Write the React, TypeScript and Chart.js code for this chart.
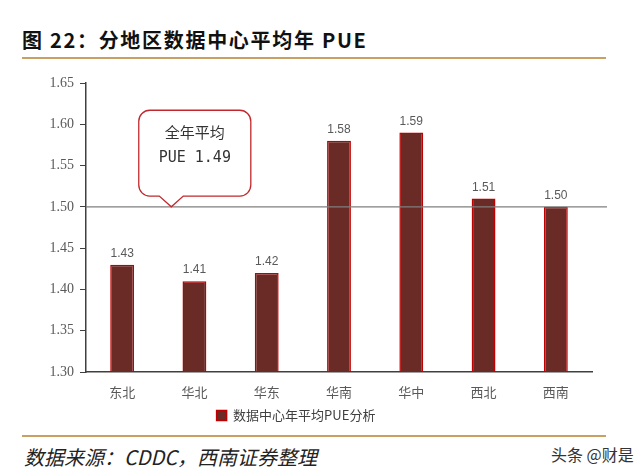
import React, { useEffect, useRef } from "react";
import { Chart, registerables } from "chart.js";

Chart.register(...registerables);

const categories = ["东北", "华北", "华东", "华南", "华中", "西北", "西南"];
const pueValues = [1.43, 1.41, 1.42, 1.58, 1.59, 1.51, 1.5];
const seriesName = "数据中心年平均PUE分析";
const avgLineValue = 1.5;
const calloutLines = ["全年平均", "PUE 1.49"];
const yMin = 1.3;
const yMax = 1.65;
const yStep = 0.05;

const overlayPlugin = {
  id: "overlay",
  afterDatasetsDraw(chart: any) {
    const { ctx, chartArea, scales } = chart;
    const xs = scales.x;
    const ys = scales.y;
    ctx.save();
    // average line
    const ly = ys.getPixelForValue(avgLineValue);
    ctx.strokeStyle = "#7f7f7f";
    ctx.lineWidth = 1.2;
    ctx.beginPath();
    ctx.moveTo(chartArea.left, ly);
    ctx.lineTo(chartArea.right + 15, ly);
    ctx.stroke();

    // data labels
    const meta = chart.getDatasetMeta(0);
    ctx.fillStyle = "#595959";
    ctx.font = "12px 'Liberation Sans', Arial, sans-serif";
    ctx.textAlign = "center";
    ctx.textBaseline = "bottom";
    meta.data.forEach((bar: any, i: number) => {
      ctx.fillText(pueValues[i].toFixed(2), bar.x, bar.y - 5);
    });

    // callout
    const x0 = xs.getPixelForValue(0);
    const x1 = xs.getPixelForValue(1);
    const cw = x1 - x0;
    const left = x0 + cw * 0.23;
    const right = x0 + cw * 1.78;
    const top = ys.getPixelForValue(1.617);
    const bottom = ys.getPixelForValue(1.513);
    const tipX = x0 + cw * 0.68;
    const tipY = ly;
    const r = 11;
    const pw = 12;
    ctx.beginPath();
    ctx.moveTo(left + r, top);
    ctx.lineTo(right - r, top);
    ctx.arcTo(right, top, right, top + r, r);
    ctx.lineTo(right, bottom - r);
    ctx.arcTo(right, bottom, right - r, bottom, r);
    ctx.lineTo(tipX + pw, bottom);
    ctx.lineTo(tipX, tipY);
    ctx.lineTo(tipX - pw, bottom);
    ctx.lineTo(left + r, bottom);
    ctx.arcTo(left, bottom, left, bottom - r, r);
    ctx.lineTo(left, top + r);
    ctx.arcTo(left, top, left + r, top, r);
    ctx.closePath();
    ctx.fillStyle = "#ffffff";
    ctx.fill();
    ctx.strokeStyle = "#c0282d";
    ctx.lineWidth = 1.3;
    ctx.stroke();

    ctx.fillStyle = "#333333";
    ctx.textAlign = "center";
    ctx.textBaseline = "middle";
    const cx = (left + right) / 2;
    ctx.font = "15px 'Noto Sans CJK SC', sans-serif";
    ctx.fillText(calloutLines[0], cx, top + 22);
    ctx.font = "15px 'DejaVu Sans Mono', 'Liberation Mono', monospace";
    ctx.fillText(calloutLines[1], cx, top + 48);
    ctx.restore();
  },
};

export default function App() {
  const ref = useRef<HTMLCanvasElement>(null);
  useEffect(() => {
    const chart = new Chart(ref.current!, {
      type: "bar",
      data: {
        labels: categories,
        datasets: [
          {
            label: seriesName,
            data: pueValues,
            backgroundColor: "#6a2a26",
            borderColor: "#c00000",
            borderWidth: 1.5,
            barPercentage: 0.33,
            categoryPercentage: 1,
          },
        ],
      },
      options: {
        animation: false,
        responsive: false,
        layout: { padding: { left: 0, right: 48, top: 21, bottom: 2 } },
        plugins: {
          legend: {
            position: "bottom",
            labels: {
              boxWidth: 10,
              boxHeight: 10,
              color: "#404040",
              font: { size: 13, family: "'Noto Sans CJK SC', sans-serif" },
              padding: 9,
            },
          },
          tooltip: { enabled: false },
        },
        scales: {
          x: {
            grid: { display: false, drawTicks: false },
            border: { color: "#404040", width: 1.5 },
            ticks: {
              color: "#595959",
              font: { size: 13, family: "'Noto Sans CJK SC', sans-serif" },
              padding: 12,
            },
            afterFit: (s: any) => {
              s.height = 28;
            },
          },
          y: {
            min: yMin,
            max: yMax,
            grid: { drawOnChartArea: false, tickLength: 6, color: "#404040" },
            border: { color: "#404040", width: 1.5 },
            ticks: {
              stepSize: yStep,
              color: "#595959",
              font: { size: 14, family: "'Liberation Serif', 'Times New Roman', serif" },
              padding: 6,
              callback: (v: any) => Number(v).toFixed(2),
            },
            afterFit: (s: any) => {
              s.width = 86;
            },
          },
        },
      },
      plugins: [overlayPlugin],
    });
    return () => chart.destroy();
  }, []);

  return (
    <div
      style={{
        position: "fixed",
        left: 0,
        top: 0,
        width: 640,
        height: 474,
        background: "#fff",
        fontFamily: "'Noto Sans CJK SC', sans-serif",
      }}
    >
      <div
        style={{
          position: "absolute",
          left: 22,
          top: 25,
          fontSize: 20,
          fontWeight: 700,
          color: "#111",
          letterSpacing: 1.7,
          whiteSpace: "nowrap",
        }}
      >
        图 22：分地区数据中心平均年 PUE
      </div>
      <div
        style={{
          position: "absolute",
          left: 22,
          top: 57,
          width: 584,
          height: 2,
          background: "#c8a064",
        }}
      />
      <canvas
        ref={ref}
        width={640}
        height={372}
        style={{ position: "absolute", left: 0, top: 62 }}
      />
      <div
        style={{
          position: "absolute",
          left: 22,
          top: 435,
          width: 584,
          height: 2,
          background: "#c8a064",
        }}
      />
      <div
        style={{
          position: "absolute",
          left: 24,
          top: 442,
          fontSize: 20,
          fontStyle: "italic",
          color: "#222",
          whiteSpace: "nowrap",
        }}
      >
        数据来源：CDDC，西南证券整理
      </div>
      <div
        style={{
          position: "absolute",
          left: 551,
          top: 442,
          fontSize: 16,
          color: "#333",
          whiteSpace: "nowrap",
        }}
      >
        头条 @财是
      </div>
    </div>
  );
}
